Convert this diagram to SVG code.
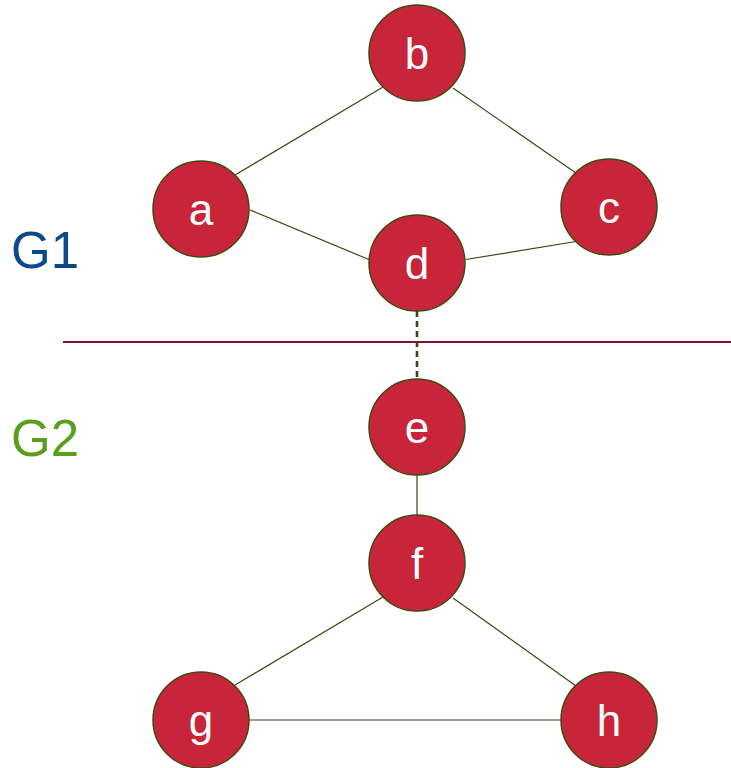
<svg xmlns="http://www.w3.org/2000/svg" width="731" height="768" viewBox="0 0 731 768">
  <style>
    .edge { stroke: #3c4514; stroke-width: 1.2; fill: none; }
    .dashed { stroke: #3c4514; stroke-width: 2.6; stroke-dasharray: 6 4; fill: none; }
    .node circle { fill: #c8243a; stroke: #3e4a12; stroke-width: 1.5; }
    .node text { fill: #ffffff; font-family: "Liberation Sans", Arial, sans-serif; font-size: 44px; text-anchor: middle; }
    .label { font-family: "Liberation Sans", Arial, sans-serif; font-size: 51px; }
  </style>
  <rect width="731" height="768" fill="#ffffff"/>

  <!-- group separator -->
  <line x1="63" y1="342" x2="731" y2="342" stroke="#8b0a32" stroke-width="2"/>
  <text class="label" x="11" y="268" fill="#0b4a8a">G1</text>
  <text class="label" x="11" y="456" fill="#5a9e1e">G2</text>

  <g id="connectors">
    <line class="edge" x1="383" y1="87" x2="235" y2="175"/>
    <line class="edge" x1="453" y1="88" x2="576" y2="173"/>
    <line class="edge" x1="250" y1="210" x2="370" y2="260"/>
    <line class="edge" x1="466" y1="259.5" x2="576" y2="241.5"/>
    <line class="dashed" x1="417" y1="311" x2="417" y2="379"/>
    <line class="edge" x1="417" y1="475" x2="417" y2="515"/>
    <line class="edge" x1="383" y1="597" x2="235" y2="685"/>
    <line class="edge" x1="453" y1="598" x2="576" y2="686"/>
    <line class="edge" x1="249" y1="720" x2="561" y2="720"/>
  </g>

  <g id="node-b" class="node"><circle cx="417" cy="53" r="48"/><text x="417" y="69">b</text></g>
  <g id="node-a" class="node"><circle cx="201" cy="209" r="48"/><text x="201" y="225">a</text></g>
  <g id="node-c" class="node"><circle cx="609" cy="207" r="48"/><text x="609" y="223">c</text></g>
  <g id="node-d" class="node"><circle cx="417" cy="263" r="48"/><text x="417" y="279">d</text></g>
  <g id="node-e" class="node"><circle cx="417" cy="427" r="48"/><text x="417" y="443">e</text></g>
  <g id="node-f" class="node"><circle cx="417" cy="563" r="48"/><text x="417" y="579">f</text></g>
  <g id="node-g" class="node"><circle cx="201" cy="720" r="48"/><text x="201" y="736">g</text></g>
  <g id="node-h" class="node"><circle cx="609" cy="720" r="48"/><text x="609" y="736">h</text></g>
</svg>
